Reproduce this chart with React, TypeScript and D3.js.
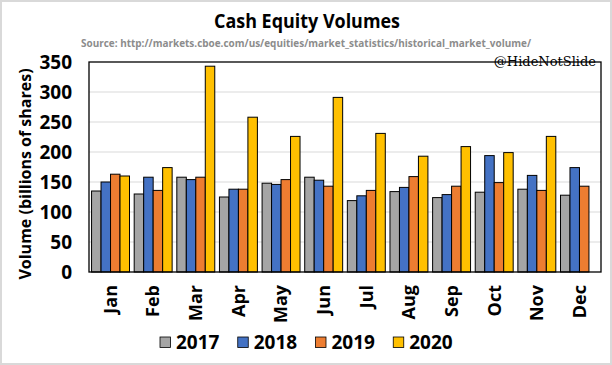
import React, { useEffect, useRef } from 'react';
import * as d3 from 'd3';

const months = ['Jan', 'Feb', 'Mar', 'Apr', 'May', 'Jun', 'Jul', 'Aug', 'Sep', 'Oct', 'Nov', 'Dec'];
const years = ['2017', '2018', '2019', '2020'];
const colors = ['#a5a5a5', '#4472c4', '#ed7d31', '#ffc000'];

const vol2017 = [135, 130, 158, 125, 148, 158, 119, 134, 124, 133, 138, 128];
const vol2018 = [150, 158, 154, 138, 146, 153, 127, 141, 129, 194, 161, 174];
const vol2019 = [163, 136, 158, 138, 154, 143, 136, 159, 143, 149, 136, 143];
const vol2020 = [160, 174, 343, 258, 226, 291, 231, 193, 209, 199, 226, null];

const yTicks = [0, 50, 100, 150, 200, 250, 300, 350];

const series = [vol2017, vol2018, vol2019, vol2020];

export default function App() {
  const svgRef = useRef<SVGSVGElement>(null);

  useEffect(() => {
    const W = 612, H = 365;
    const svg = d3.select(svgRef.current);
    svg.selectAll('*').remove();
    svg.attr('width', W).attr('height', H);

    // background + outer border
    svg.append('rect').attr('x', 1).attr('y', 1).attr('width', W - 2).attr('height', H - 2)
      .attr('fill', '#fff').attr('stroke', '#d9d9d9').attr('stroke-width', 2);

    const m = { left: 89, top: 62, right: 601, bottom: 272 };

    const x = d3.scaleBand().domain(months).range([m.left, m.right]).paddingInner(0.11).paddingOuter(0.06);
    const xs = d3.scaleBand().domain(years).range([0, x.bandwidth()]);
    const y = d3.scaleLinear().domain([0, 350]).range([m.bottom, m.top]);

    // gridlines
    svg.append('g').selectAll('line').data(yTicks.slice(1, -1)).enter().append('line')
      .attr('x1', m.left).attr('x2', m.right)
      .attr('y1', d => y(d)).attr('y2', d => y(d))
      .attr('stroke', '#d9d9d9').attr('stroke-width', 1);

    // bars
    const rows = months.flatMap((mo, i) => series.map((s, j) => ({ mo, yr: years[j], v: s[i], c: colors[j] })))
      .filter(d => d.v != null);
    svg.append('g').selectAll('rect').data(rows).enter().append('rect')
      .attr('x', d => (x(d.mo) as number) + (xs(d.yr) as number))
      .attr('width', xs.bandwidth())
      .attr('y', d => y(d.v as number))
      .attr('height', d => m.bottom - y(d.v as number))
      .attr('fill', d => d.c)
      .attr('stroke', '#000').attr('stroke-width', 1);

    // plot frame
    svg.append('rect').attr('x', m.left).attr('y', m.top)
      .attr('width', m.right - m.left).attr('height', m.bottom - m.top)
      .attr('fill', 'none').attr('stroke', '#000').attr('stroke-width', 1.3);

    const font = "'Open Sans', 'Noto Sans', sans-serif";

    // y axis labels
    const yAxis = svg.append('g')
      .attr('transform', `translate(${m.left},0)`)
      .call(d3.axisLeft(y).tickValues(yTicks).tickSize(0).tickPadding(17));
    yAxis.select('.domain').remove();
    yAxis.selectAll('text').attr('font-family', font).attr('font-size', 19).attr('font-weight', 700)
      .attr('fill', '#000');

    // x axis labels (rotated)
    const xAxis = svg.append('g')
      .attr('transform', `translate(0,${m.bottom})`)
      .call(d3.axisBottom(x).tickSize(0));
    xAxis.select('.domain').remove();
    xAxis.selectAll('text')
      .attr('font-family', font).attr('font-size', 18).attr('font-weight', 700).attr('fill', '#000')
      .attr('transform', 'rotate(-90)')
      .attr('text-anchor', 'end')
      .attr('x', -13).attr('y', 0).attr('dy', '0.35em');

    // y title
    svg.append('text')
      .attr('transform', `translate(31,${(m.top + m.bottom) / 2 + 7}) rotate(-90)`)
      .attr('text-anchor', 'middle')
      .attr('font-family', font).attr('font-size', 16).attr('font-weight', 700)
      .text('Volume (billions of shares)');

    // titles
    svg.append('text').attr('x', 307).attr('y', 28).attr('text-anchor', 'middle')
      .attr('font-family', font).attr('font-size', 19).attr('font-weight', 700)
      .attr('textLength', 186).attr('lengthAdjust', 'spacingAndGlyphs')
      .text('Cash Equity Volumes');
    svg.append('text').attr('x', 306).attr('y', 47).attr('text-anchor', 'middle')
      .attr('font-family', font).attr('font-size', 11).attr('font-weight', 700).attr('fill', '#8c8c8c')
      .attr('textLength', 450).attr('lengthAdjust', 'spacingAndGlyphs')
      .text('Source: http://markets.cboe.com/us/equities/market_statistics/historical_market_volume/');
    svg.append('text').attr('x', 596).attr('y', 66).attr('text-anchor', 'end')
      .attr('font-family', "'DejaVu Serif', serif").attr('font-size', 13)
      .text('@HideNotSlide');

    // legend
    const legendX = d3.scaleBand().domain(years).range([160, 471]);
    const lg = svg.append('g').selectAll('g').data(years).enter().append('g')
      .attr('transform', d => `translate(${legendX(d)},342.5)`);
    lg.append('rect').attr('x', 0).attr('y', -5.5).attr('width', 10.5).attr('height', 10.5)
      .attr('fill', (d, i) => colors[i]).attr('stroke', '#000').attr('stroke-width', 0.8);
    lg.append('text').attr('x', 16).attr('y', 0).attr('dy', '0.36em')
      .attr('font-family', font).attr('font-size', 19).attr('font-weight', 700)
      .text(d => d);
  }, []);

  return (
    <svg ref={svgRef} style={{ position: 'absolute', left: 0, top: 0, display: 'block' }}></svg>
  );
}
